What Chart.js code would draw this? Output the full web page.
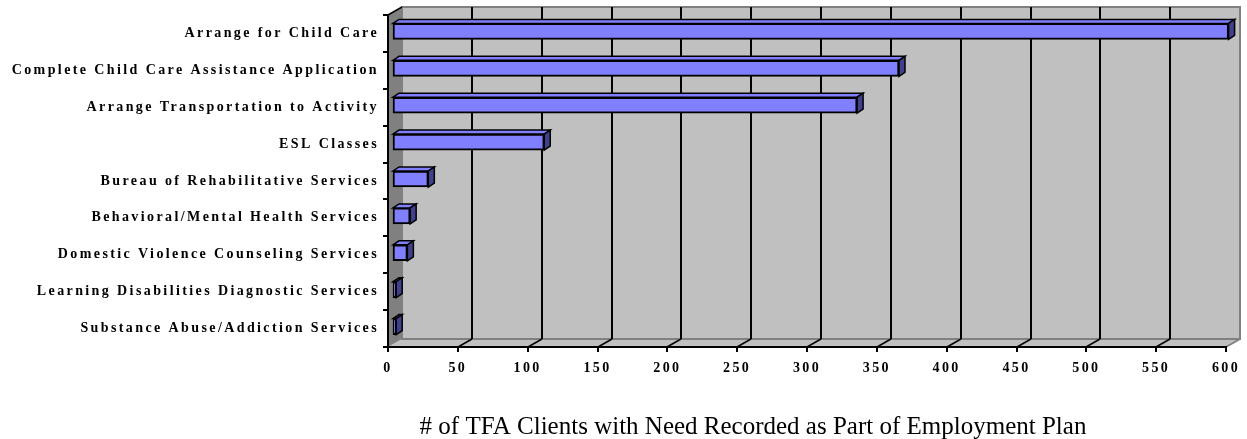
<!DOCTYPE html>
<html>
<head>
<meta charset="utf-8">
<script src="https://cdn.jsdelivr.net/npm/chart.js@4.4.1/dist/chart.umd.min.js"></script>
<style>
  html, body { margin: 0; padding: 0; background: #ffffff; }
  #wrap { width: 1247px; height: 439px; }
</style>
</head>
<body>
<div id="wrap"><canvas id="needs" width="1247" height="439"></canvas></div>
<script>
// Needs recorded in TFA employment plans
const categories = [
  'Arrange for Child Care',
  'Complete Child Care Assistance Application',
  'Arrange Transportation to Activity',
  'ESL Classes',
  'Bureau of Rehabilitative Services',
  'Behavioral/Mental Health Services',
  'Domestic Violence Counseling Services',
  'Learning Disabilities Diagnostic Services',
  'Substance Abuse/Addiction Services'
];
const clientCounts = [599, 363, 333, 109, 26, 13, 11, 3, 3];
const axisMin = 0;
const axisMax = 600;
const axisStep = 50;
const axisTitle = '# of TFA Clients with Need Recorded as Part of Employment Plan';

// 3-D box geometry: back wall offset and bar depth
const WALL_DX = 14, WALL_DY = 8;
const BAR_SHIFT_X = 4, BAR_SHIFT_Y = 2;
const BAR_DX = 6, BAR_DY = 4;
const LABEL_SPACING = '2.4px';

const walls = {
  id: 'walls',
  beforeDraw(chart) {
    const { ctx, chartArea: a, scales: { x } } = chart;
    ctx.save();
    ctx.letterSpacing = '0px';
    // floor
    ctx.fillStyle = '#c0c0c0';
    ctx.beginPath();
    ctx.moveTo(a.left, a.bottom);
    ctx.lineTo(a.left + WALL_DX, a.bottom - WALL_DY);
    ctx.lineTo(a.right + WALL_DX, a.bottom - WALL_DY);
    ctx.lineTo(a.right, a.bottom);
    ctx.closePath();
    ctx.fill();
    // back wall
    ctx.fillRect(a.left + WALL_DX, a.top - WALL_DY, a.right - a.left, a.bottom - a.top);
    // side wall
    ctx.fillStyle = '#808080';
    ctx.beginPath();
    ctx.moveTo(a.left, a.top);
    ctx.lineTo(a.left + WALL_DX, a.top - WALL_DY);
    ctx.lineTo(a.left + WALL_DX, a.bottom - WALL_DY);
    ctx.lineTo(a.left, a.bottom);
    ctx.closePath();
    ctx.fill();
    // wall edges
    ctx.strokeStyle = '#808080';
    ctx.lineWidth = 2;
    ctx.strokeRect(a.left + WALL_DX, a.top - WALL_DY, a.right - a.left, a.bottom - a.top);
    ctx.beginPath();
    ctx.moveTo(a.right, a.bottom);
    ctx.lineTo(a.right + WALL_DX, a.bottom - WALL_DY);
    ctx.stroke();
    // gridlines on the back wall, joined to the front axis across the floor
    ctx.strokeStyle = '#000000';
    x.ticks.forEach(t => {
      if (t.value <= axisMin || t.value >= axisMax) return;
      const px = Math.round(x.getPixelForValue(t.value));
      ctx.lineWidth = 2;
      ctx.beginPath();
      ctx.moveTo(px + WALL_DX, a.top - WALL_DY);
      ctx.lineTo(px + WALL_DX, a.bottom - WALL_DY);
      ctx.stroke();
      ctx.lineWidth = 1.5;
      ctx.beginPath();
      ctx.moveTo(px, a.bottom);
      ctx.lineTo(px + WALL_DX, a.bottom - WALL_DY);
      ctx.stroke();
    });
    // top edge of the side wall
    ctx.lineWidth = 1.5;
    ctx.beginPath();
    ctx.moveTo(a.left, a.top);
    ctx.lineTo(a.left + WALL_DX, a.top - WALL_DY);
    ctx.stroke();
    ctx.restore();
    ctx.letterSpacing = LABEL_SPACING;
  }
};

const bars3d = {
  id: 'bars3d',
  beforeDatasetsDraw(chart) {
    chart.ctx.save();
    chart.ctx.translate(BAR_SHIFT_X, -BAR_SHIFT_Y);
  },
  afterDatasetsDraw(chart) {
    const ctx = chart.ctx;
    const meta = chart.getDatasetMeta(0);
    ctx.lineWidth = 1.5;
    ctx.strokeStyle = '#000000';
    ctx.lineJoin = 'miter';
    meta.data.forEach(bar => {
      const { x, y, base, height } = bar.getProps(['x', 'y', 'base', 'height'], true);
      const L = base, R = x, T = y - height / 2, B = y + height / 2;
      // top face
      ctx.fillStyle = '#8080ff';
      ctx.beginPath();
      ctx.moveTo(L, T);
      ctx.lineTo(L + BAR_DX, T - BAR_DY);
      ctx.lineTo(R + BAR_DX, T - BAR_DY);
      ctx.lineTo(R, T);
      ctx.closePath();
      ctx.fill();
      ctx.stroke();
      // end face
      ctx.fillStyle = '#40408c';
      ctx.beginPath();
      ctx.moveTo(R, T);
      ctx.lineTo(R + BAR_DX, T - BAR_DY);
      ctx.lineTo(R + BAR_DX, B - BAR_DY);
      ctx.lineTo(R, B);
      ctx.closePath();
      ctx.fill();
      ctx.stroke();
    });
    ctx.restore();
  }
};

const bottomTitle = {
  id: 'bottomTitle',
  afterDraw(chart) {
    const ctx = chart.ctx;
    ctx.save();
    ctx.letterSpacing = '0px';
    ctx.font = '25px "Liberation Serif"';
    ctx.fillStyle = '#000000';
    ctx.textAlign = 'center';
    ctx.textBaseline = 'alphabetic';
    ctx.fillText(axisTitle, 753, 434);
    ctx.restore();
  }
};

const tickFont = { family: '"Liberation Serif"', size: 14, weight: 'bold' };

new Chart(document.getElementById('needs'), {
  type: 'bar',
  data: {
    labels: categories,
    datasets: [{
      data: clientCounts,
      backgroundColor: '#8080ff',
      borderColor: '#000000',
      borderWidth: 2,
      borderSkipped: false,
      barThickness: 16,
      clip: false
    }]
  },
  options: {
    indexAxis: 'y',
    responsive: false,
    animation: false,
    events: [],
    layout: { padding: { top: 15, right: 21, bottom: 52, left: 0 } },
    plugins: { legend: { display: false }, tooltip: { enabled: false }, title: { display: false } },
    scales: {
      x: {
        type: 'linear',
        min: axisMin,
        max: axisMax,
        ticks: { stepSize: axisStep, color: '#000000', font: tickFont, padding: 8, maxRotation: 0, autoSkip: false },
        grid: { drawOnChartArea: false, drawTicks: true, tickLength: 5, tickColor: '#000000', lineWidth: 2 },
        border: { display: true, color: '#000000', width: 2 },
        afterFit(scale) { scale.height = 40; }
      },
      y: {
        type: 'category',
        ticks: { color: '#000000', font: tickFont, padding: 4, autoSkip: false },
        grid: { offset: true, drawOnChartArea: false, drawTicks: true, tickLength: 5, tickColor: '#000000', lineWidth: 2 },
        border: { display: true, color: '#000000', width: 2 },
        afterFit(scale) { scale.width = 388; }
      }
    }
  },
  plugins: [walls, bars3d, bottomTitle]
});
</script>
</body>
</html>
